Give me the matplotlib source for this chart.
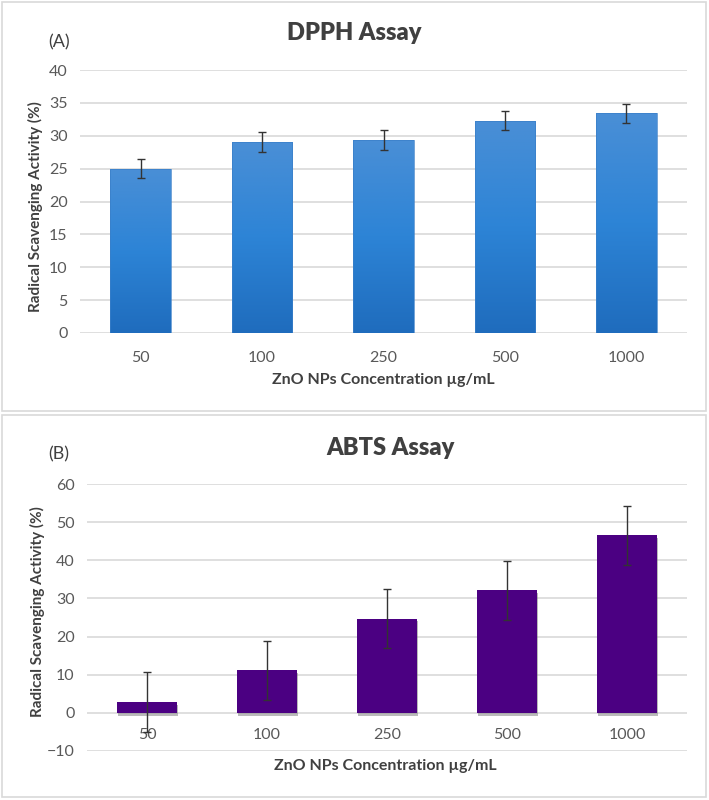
import numpy as np
import matplotlib.pyplot as plt
from matplotlib.patches import Rectangle
import matplotlib.patheffects as pe
from matplotlib.colors import LinearSegmentedColormap

plt.rcParams['font.family'] = ['Lato', 'DejaVu Sans']

# data
conc = ['50', '100', '250', '500', '1000']
dpph = [25.0, 29.0, 29.4, 32.3, 33.4]
dpph_err = [1.5, 1.5, 1.5, 1.5, 1.5]
abts = [2.9, 11.2, 24.7, 32.1, 46.5]
abts_err = [7.8, 7.7, 7.7, 7.7, 7.7]

grid_c = '#d9d9d9'
tick_c = '#595959'
text_c = '#404040'

fig = plt.figure(figsize=(7.09, 8.0), dpi=100)

# panel frames
for y0, y1 in [(2, 411), (415, 797)]:
    fig.patches.append(Rectangle((2 / 709, 1 - y1 / 800), 704 / 709, (y1 - y0) / 800,
                                 transform=fig.transFigure, fill=False,
                                 edgecolor=grid_c, linewidth=1.2))

x = np.arange(len(conc))
shadow = [pe.SimplePatchShadow(offset=(1, -2), shadow_rgbFace='#777777', alpha=0.5), pe.Normal()]


def style(ax, ticks):
    ax.set_yticks(ticks)
    ax.yaxis.grid(True, color=grid_c, linewidth=1.2)
    ax.set_axisbelow(True)
    for s in ax.spines.values():
        s.set_visible(False)
    ax.tick_params(length=0, labelsize=11.5, colors=tick_c, pad=9)
    ax.set_xticks(x)
    ax.set_xticklabels(conc)


# (A) DPPH
axA = fig.add_axes([80 / 709, 1 - 333 / 800, 607 / 709, 263 / 800])
style(axA, np.arange(0, 41, 5))
barsA = axA.bar(x, dpph, width=0.5, color='none', edgecolor='none', zorder=2)
cmapA = LinearSegmentedColormap.from_list('blu', ['#1f6cbd', '#2d84d6', '#4a8fd6'])
grad = np.linspace(0, 1, 256).reshape(-1, 1)
for b in barsA:
    im = axA.imshow(grad, extent=(b.get_x(), b.get_x() + b.get_width(), 0, b.get_height()),
                    origin='lower', cmap=cmapA, aspect='auto', zorder=2)
    im.set_clip_path(b)
    axA.add_patch(Rectangle((b.get_x(), 0), b.get_width(), b.get_height(), facecolor='none',
                            edgecolor='#3a7fc8', linewidth=0.5, zorder=2.1))
axA.errorbar(x, dpph, yerr=dpph_err, fmt='none', ecolor='#333333', elinewidth=1,
             capsize=3, capthick=1, zorder=3)
axA.set_xlim(-0.5, 4.5)
axA.set_ylim(0, 40)
axA.tick_params(axis='x', pad=13)

fig.text(354 / 709, 1 - 33 / 800, 'DPPH Assay', ha='center', va='center',
         fontsize=17, fontweight='heavy', color=text_c)
fig.text(59 / 709, 1 - 42 / 800, '(A)', ha='center', va='center', fontsize=13, color=text_c)
fig.text(35 / 709, 1 - 207 / 800, 'Radical Scavenging Activity (%)', rotation=90,
         ha='center', va='center', fontsize=11, fontweight='bold', color=text_c)
fig.text(383 / 709, 1 - 380 / 800, 'ZnO NPs Concentration µg/mL', ha='center', va='center',
         fontsize=11.5, fontweight='bold', color=text_c)

# (B) ABTS
axB = fig.add_axes([87 / 709, 1 - 751 / 800, 600 / 709, 267 / 800])
style(axB, np.arange(-10, 61, 10))
axB.spines['bottom'].set_position(('data', 0))
axB.bar(x, abts, width=0.5, color='#4b0082', zorder=2, path_effects=shadow)
axB.errorbar(x, abts, yerr=abts_err, fmt='none', ecolor='#333333', elinewidth=1,
             capsize=3, capthick=1, zorder=3)
axB.set_xlim(-0.5, 4.5)
axB.set_ylim(-10, 60)
axB.tick_params(axis='x', pad=11)

fig.text(390 / 709, 1 - 448 / 800, 'ABTS Assay', ha='center', va='center',
         fontsize=17, fontweight='heavy', color=text_c)
fig.text(59 / 709, 1 - 454 / 800, '(B)', ha='center', va='center', fontsize=13, color=text_c)
fig.text(37 / 709, 1 - 612 / 800, 'Radical Scavenging Activity (%)', rotation=90,
         ha='center', va='center', fontsize=11, fontweight='bold', color=text_c)
fig.text(385 / 709, 1 - 766 / 800, 'ZnO NPs Concentration µg/mL', ha='center', va='center',
         fontsize=11.5, fontweight='bold', color=text_c)

fig.savefig('out.png', dpi=100)
